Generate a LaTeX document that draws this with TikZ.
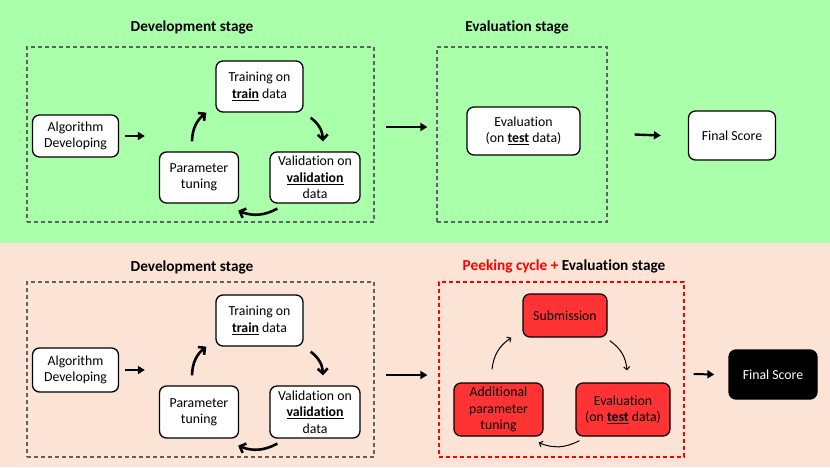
\documentclass[tikz,border=0pt]{standalone}
\usepackage{fontspec}
\setmainfont[Ligatures=NoCommon]{Carlito}
\usetikzlibrary{arrows.meta, positioning}
\definecolor{bggreen}{HTML}{AAFFAA}
\definecolor{bgpeach}{HTML}{FBE4D6}
\definecolor{peekred}{HTML}{FF3333}
\definecolor{framegray}{HTML}{606060}
\tikzstyle{box}=[draw=black, line width=1.3pt, rounded corners=7pt, fill=white,
                 align=center, inner sep=2pt, font=\fontsize{13.8}{16.5}\selectfont]
\tikzstyle{redbox}=[box, fill=peekred]
\tikzstyle{darkbox}=[box, fill=black, text=white]
\tikzstyle{stagebox}=[draw=framegray, line width=1.2pt, dash pattern=on 4pt off 3pt]
\tikzstyle{title}=[font=\fontsize{15.3}{18}\selectfont\bfseries]
\tikzstyle{arrow}=[-{Triangle[length=7pt,width=8pt]}, line width=2.4pt]
\tikzstyle{cyclearrow}=[-{Straight Barb[length=5pt,width=10pt]}, line width=2.6pt, bend left=25]
\tikzstyle{thinarrow}=[-{Straight Barb[length=3pt,width=6pt]}, line width=1pt, bend left=25]
\newcommand{\ulb}[1]{\underline{\textbf{#1}}}

\begin{document}
\begin{tikzpicture}[x=1pt, y=-1pt]
  % Backgrounds
  \fill[bggreen] (0,0) rectangle (830,243);
  \fill[bgpeach] (0,243) rectangle (830,467);
  \useasboundingbox (0,0) rectangle (830,467);

  % Top: development stage
  \node[title] (devtitle) at (192,27) {Development stage};
  \node[stagebox, minimum width=347pt, minimum height=175pt] (dev) at (200.5,134.5) {};
  \node[box, minimum width=86pt, minimum height=42pt] (algo) at (75.5,136) {Algorithm\\Developing};
  \node[box, minimum width=87pt, minimum height=51pt] (train) at (259.5,86.5) {Training on\\\ulb{train} data};
  \node[box, minimum width=90pt, minimum height=51pt] (valid) at (315,177.5) {Validation on\\\ulb{validation}\\data};
  \node[box, minimum width=79pt, minimum height=51pt] (param) at (199,177.5) {Parameter\\tuning};

  \draw[arrow] ([xshift=6pt]algo.east) -- ([xshift=-14pt]param.west |- algo.east);
  \draw[cyclearrow] ([shift={(-7,-10)}]param.north) to ([shift={(-9,0)}]train.south west);
  \draw[cyclearrow] ([shift={(7,5)}]train.south east) to ([shift={(8,-10)}]valid.north);
  \draw[cyclearrow] ([shift={(8,5)}]valid.south west) to ([shift={(-1,7)}]param.south east);

  % Top: evaluation stage
  \node[title] (evaltitle) at (517,27) {Evaluation stage};
  \node[stagebox, minimum width=170pt, minimum height=175pt] (eval) at (522,134.5) {};
  \node[box, minimum width=113pt, minimum height=48pt] (test) at (523.5,131) {Evaluation\\(on \ulb{test} data)};
  \node[box, minimum width=87pt, minimum height=49pt] (final) at (732,135.5) {Final Score};

  \draw[arrow] ([shift={(11,-7.5)}]dev.east) -- ([shift={(-9,-7.5)}]eval.west);
  \draw[arrow] ([xshift=27pt]eval.east) -- ([xshift=-27pt]final.west);

  % Bottom: development stage
  \node[title] (devtitleb) at (192,267) {Development stage};
  \node[stagebox, minimum width=347pt, minimum height=175pt] (devb) at (200.5,369.5) {};
  \node[box, minimum width=86pt, minimum height=44pt] (algob) at (75.5,370) {Algorithm\\Developing};
  \node[box, minimum width=87pt, minimum height=51pt] (trainb) at (259.5,320.5) {Training on\\\ulb{train} data};
  \node[box, minimum width=90pt, minimum height=52pt] (validb) at (315,412) {Validation on\\\ulb{validation}\\data};
  \node[box, minimum width=79pt, minimum height=52pt] (paramb) at (199,412) {Parameter\\tuning};

  \draw[arrow] ([xshift=6pt]algob.east) -- ([xshift=-14pt]paramb.west |- algob.east);
  \draw[cyclearrow] ([shift={(-7,-10)}]paramb.north) to ([shift={(-9,0)}]trainb.south west);
  \draw[cyclearrow] ([shift={(7,5)}]trainb.south east) to ([shift={(8,-10)}]validb.north);
  \draw[cyclearrow] ([shift={(8,5)}]validb.south west) to ([shift={(-1,7)}]paramb.south east);

  % Bottom: peeking cycle
  \node[title] (peektitle) at (564,266) {\textcolor{red}{Peeking cycle +} Evaluation stage};
  \node[stagebox, draw=red, minimum width=245pt, minimum height=175pt] (peek) at (561.5,369.5) {};
  \node[redbox, minimum width=84pt, minimum height=43pt] (submit) at (565,315.5) {Submission};
  \node[redbox, minimum width=89pt, minimum height=53pt] (extra) at (498.5,409.5) {Additional\\parameter\\tuning};
  \node[redbox, minimum width=94pt, minimum height=53pt] (testb) at (623,409.5) {Evaluation\\(on \ulb{test} data)};
  \node[darkbox, minimum width=88pt, minimum height=49pt] (finalb) at (773,374.5) {Final Score};

  \draw[thinarrow] ([shift={(-6.5,-13)}]extra.north) to ([shift={(-11,0)}]submit.south west);
  \draw[thinarrow] ([shift={(2,3)}]submit.south east) to ([shift={(4,-12)}]testb.north);
  \draw[thinarrow] ([shift={(4,4)}]testb.south west) to ([shift={(-5,6)}]extra.south east);

  \draw[arrow] ([shift={(11,5.5)}]devb.east) -- ([shift={(-11,5.5)}]peek.west);
  \draw[arrow, line width=2pt] ([shift={(9,4.5)}]peek.east) -- ([xshift=-14pt]finalb.west);
\end{tikzpicture}
\end{document}
